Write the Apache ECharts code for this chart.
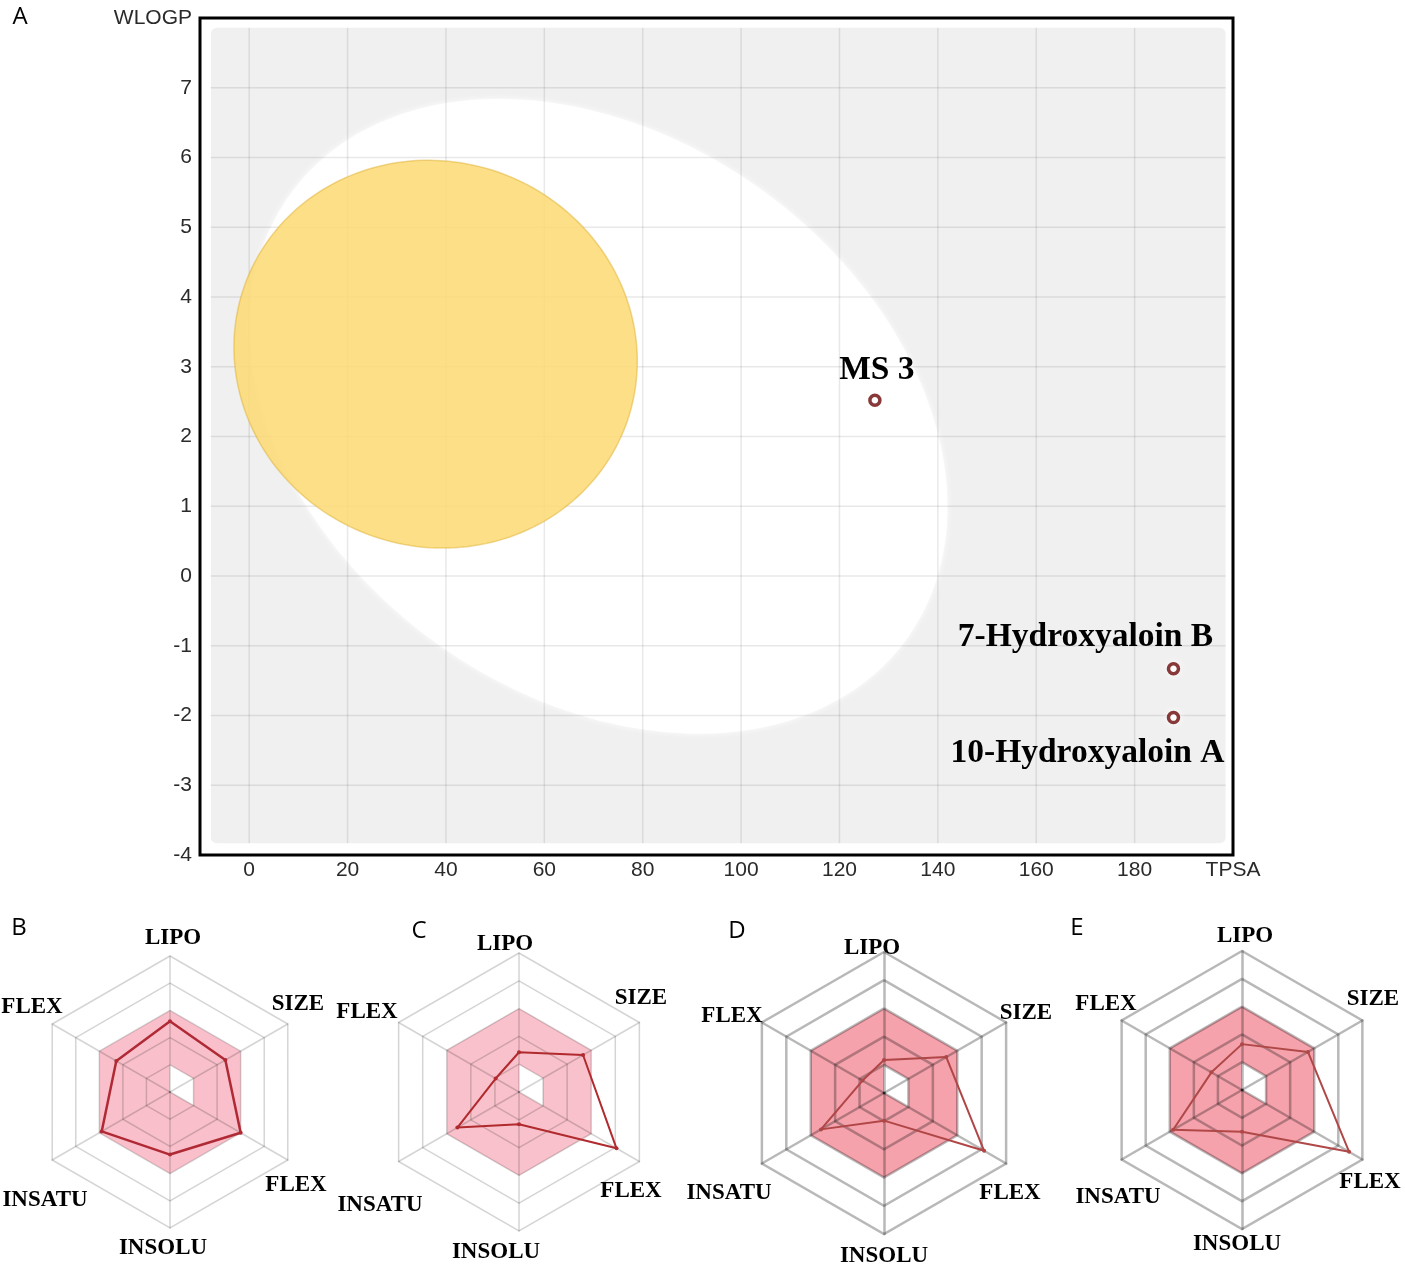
<!DOCTYPE html>
<html><head><meta charset="utf-8">
<script src="https://cdn.jsdelivr.net/npm/echarts@6/dist/echarts.min.js"></script>
<style>html,body{margin:0;padding:0;background:#fff}#c{width:1405px;height:1265px}</style>
</head><body><div id="c"></div>
<script>
// ---------- Panel A: BOILED-Egg ----------
const compoundNames = ['MS 3', '7-Hydroxyaloin B', '10-Hydroxyaloin A'];
const tpsaValues = [127.2, 187.9, 187.9];
const wlogpValues = [2.52, -1.33, -2.03];
const xTickValues = [0, 20, 40, 60, 80, 100, 120, 140, 160, 180];
const yTickValues = [-3, -2, -1, 0, 1, 2, 3, 4, 5, 6, 7];
// regions: [centre TPSA, centre WLOGP, half-width (TPSA), half-height (WLOGP), WLOGP offset of right-most point]
const eggWhite = [71.05, 2.29, 70.9, 4.55, -1.3];
const eggYolk = [37.9, 3.18, 41.0, 2.78, -0.1];
// shaded plotting region [TPSA min, TPSA max, WLOGP min, WLOGP max]
const plotRegion = [-7.8, 198.5, -3.83, 7.86];

// ---------- Panels B-E: bioavailability radars ----------
// axes counter-clockwise from top
const radarAxes = ['LIPO', 'FLEX', 'INSATU', 'INSOLU', 'FLEX', 'SIZE'];
const optimalOuter = [3, 3, 3, 3, 3, 3];
const optimalInner = [1, 0, 0, 0, 1, 1];
const radarB = [2.6, 2.28, 2.9, 2.3, 3.0, 2.35];
const radarC = [1.43, 0.97, 2.56, 1.16, 4.05, 2.66];
const radarD = [1.17, 0.88, 2.58, 0.98, 4.1, 2.55];
const radarE = [1.65, 1.27, 2.86, 1.5, 4.45, 2.74];

// ---------- layout / style ----------
const pointLabelOffsets = [[2, -30], [-88, -31], [-86, 36]];
const panels = [
  { letter: 'B', letterPos: [19, 928], center: [170, 1092], radius: 136, values: radarB,
    pink: '#f9c0cb', grid: 'rgba(0,0,0,0.17)', gridW: 1.5, line: '#b02a35', lineW: 2.5,
    nameOff: [[3, -154], [-138, -85], [-125, 108], [-7, 156], [126, 93], [128, -88]] },
  { letter: 'C', letterPos: [419, 931], center: [519, 1092], radius: 139, values: radarC,
    pink: '#f9c1cb', grid: 'rgba(0,0,0,0.17)', gridW: 1.5, line: '#b02a2e', lineW: 2,
    nameOff: [[-14, -148], [-152, -80], [-139, 113], [-23, 160], [112, 99], [122, -94]] },
  { letter: 'D', letterPos: [737, 931], center: [884, 1093], radius: 141, values: radarD,
    pink: '#f5a2ac', grid: 'rgba(0,0,0,0.28)', gridW: 2.5, line: '#b04646', lineW: 2,
    nameOff: [[-12, -145], [-152, -77], [-155, 100], [0, 163], [126, 100], [142, -80]] },
  { letter: 'E', letterPos: [1077, 928], center: [1242, 1090], radius: 139, values: radarE,
    pink: '#f5a2ac', grid: 'rgba(0,0,0,0.28)', gridW: 2.5, line: '#b04848', lineW: 2,
    nameOff: [[3, -154], [-136, -86], [-124, 107], [-5, 154], [128, 92], [131, -91]] }
];

const axisFont = 'Liberation Sans';
const serif = 'Liberation Serif';

function ellipsePolygon(api) {
  const cx = api.value(0), cy = api.value(1), hw = api.value(2), hh = api.value(3), off = api.value(4);
  const lyy = Math.sqrt(hh * hh - off * off);
  const pts = [];
  const n = 200;
  for (let k = 0; k < n; k++) {
    const t = k / n * Math.PI * 2;
    pts.push(api.coord([cx + hw * Math.cos(t), cy + off * Math.cos(t) + lyy * Math.sin(t)]));
  }
  return pts;
}

const pointData = tpsaValues.map((x, i) => [x, wlogpValues[i], i]);

const series = [
  { type: 'custom', z: 1, silent: true, data: [plotRegion], encode: { x: [0, 1], y: [2, 3] },
    renderItem: function (params, api) {
      const p1 = api.coord([api.value(0), api.value(3)]);
      const p2 = api.coord([api.value(1), api.value(2)]);
      return { type: 'rect', shape: { x: p1[0], y: p1[1], width: p2[0] - p1[0], height: p2[1] - p1[1], r: 6 },
        style: { fill: '#f0f0f0' } };
    } },
  { type: 'custom', z: 2, silent: true, data: [eggWhite], encode: { x: 0, y: 1 },
    renderItem: function (params, api) {
      return { type: 'polygon', shape: { points: ellipsePolygon(api), smooth: 0 },
        style: { fill: '#ffffff', shadowBlur: 6, shadowColor: 'rgba(255,255,255,0.9)' } };
    } },
  { type: 'custom', z: 3, silent: true, data: xTickValues.map(v => [v]), encode: { x: 0 },
    renderItem: function (params, api) {
      const a = api.coord([api.value(0), plotRegion[3]]);
      const b = api.coord([api.value(0), plotRegion[2]]);
      return { type: 'line', shape: { x1: a[0], y1: a[1], x2: b[0], y2: b[1] },
        style: { stroke: 'rgba(0,0,0,0.09)', lineWidth: 1.5 } };
    } },
  { type: 'custom', z: 3, silent: true, data: yTickValues.map(v => [v]), encode: { y: 0 },
    renderItem: function (params, api) {
      const a = api.coord([plotRegion[0], api.value(0)]);
      const b = api.coord([plotRegion[1], api.value(0)]);
      return { type: 'line', shape: { x1: a[0], y1: a[1], x2: b[0], y2: b[1] },
        style: { stroke: 'rgba(0,0,0,0.09)', lineWidth: 1.5 } };
    } },
  { type: 'custom', z: 4, silent: true, data: [eggYolk], encode: { x: 0, y: 1 },
    renderItem: function (params, api) {
      return { type: 'polygon', shape: { points: ellipsePolygon(api) },
        style: { fill: 'rgba(252,218,115,0.86)', stroke: 'rgba(220,170,40,0.45)', lineWidth: 1.5 } };
    } },
  { type: 'scatter', z: 6, symbol: 'circle', symbolSize: 10,
    itemStyle: { color: '#ffffff', borderColor: '#6a0808', borderWidth: 3.5, shadowBlur: 10, shadowColor: 'rgba(255,255,255,1)' },
    label: { show: false },
    data: pointData.map(d => ({ name: compoundNames[d[2]], value: [d[0], d[1]] })) },
  { type: 'custom', z: 7, silent: true, data: pointData, encode: { x: 0, y: 1 },
    renderItem: function (params, api) {
      const i = api.value(2);
      const p = api.coord([api.value(0), api.value(1)]);
      return { type: 'text', x: p[0] + pointLabelOffsets[i][0], y: p[1] + pointLabelOffsets[i][1],
        style: { text: compoundNames[i], font: 'bold 33.5px "Liberation Serif"', fill: '#000000',
          align: 'center', verticalAlign: 'middle', textAlign: 'center', textVerticalAlign: 'middle' } };
    } }
];

const radars = [];
panels.forEach(p => {
  radars.push({ center: p.center, radius: p.radius, startAngle: 90, shape: 'polygon', splitNumber: 5, z: 0,
    indicator: radarAxes.map(n => ({ name: n, min: 0, max: 5 })),
    axisName: { show: false }, splitLine: { show: false }, splitArea: { show: false },
    axisLine: { show: false }, axisTick: { show: false }, axisLabel: { show: false } });
});
panels.forEach(p => {
  radars.push({ center: p.center, radius: p.radius, startAngle: 90, shape: 'polygon', splitNumber: 5, z: 3,
    indicator: radarAxes.map(n => ({ name: n, min: 0, max: 5 })),
    axisName: { show: false }, splitArea: { show: false },
    splitLine: { show: true, lineStyle: { color: p.grid, width: p.gridW } },
    axisLine: { show: true, lineStyle: { color: p.grid, width: p.gridW } },
    axisTick: { show: false }, axisLabel: { show: false } });
});
panels.forEach((p, i) => {
  series.push({ type: 'radar', radarIndex: i, z: 1, silent: true, symbol: 'none',
    lineStyle: { opacity: 0 }, areaStyle: { color: p.pink, opacity: 1 }, data: [{ value: optimalOuter }] });
  series.push({ type: 'radar', radarIndex: i, z: 2, silent: true, symbol: 'none',
    lineStyle: { opacity: 0 }, areaStyle: { color: '#ffffff', opacity: 1 }, data: [{ value: optimalInner }] });
  series.push({ type: 'radar', radarIndex: i, z: 5, silent: true, symbol: 'circle', symbolSize: 4,
    lineStyle: { color: p.line, width: p.lineW }, itemStyle: { color: p.line }, data: [{ value: p.values }] });
});

const graphics = [];
graphics.push({ type: 'text', x: 20, y: 17, z: 10,
  style: { text: 'A', font: '24px "Open Sans"', fill: '#000', textAlign: 'center', textVerticalAlign: 'middle', align: 'center', verticalAlign: 'middle' } });
panels.forEach(p => {
  graphics.push({ type: 'text', x: p.letterPos[0], y: p.letterPos[1], z: 10,
    style: { text: p.letter, font: '24px "Open Sans"', fill: '#000', textAlign: 'center', textVerticalAlign: 'middle', align: 'center', verticalAlign: 'middle' } });
  radarAxes.forEach((n, k) => {
    graphics.push({ type: 'text', x: p.center[0] + p.nameOff[k][0], y: p.center[1] + p.nameOff[k][1], z: 10,
      style: { text: n, font: 'bold 23px "Liberation Serif"', fill: '#000', textAlign: 'center', textVerticalAlign: 'middle', align: 'center', verticalAlign: 'middle' } });
  });
});

const chart = echarts.init(document.getElementById('c'), null, { renderer: 'canvas' });
chart.setOption({
  animation: false,
  backgroundColor: '#ffffff',
  grid: { left: 200, top: 18, width: 1033, height: 837, show: true, borderColor: '#000', borderWidth: 3, backgroundColor: '#ffffff' },
  xAxis: { type: 'value', min: -10, max: 200, interval: 10,
    axisLine: { show: false }, axisTick: { show: false }, splitLine: { show: false },
    axisLabel: { fontFamily: axisFont, fontSize: 21, color: '#2a2a2a', margin: 5, showMinLabel: true, showMaxLabel: true,
      formatter: v => v === 200 ? 'TPSA' : (v >= 0 && v % 20 === 0 ? String(v) : '') } },
  yAxis: { type: 'value', min: -4, max: 8, interval: 1,
    axisLine: { show: false }, axisTick: { show: false }, splitLine: { show: false },
    axisLabel: { fontFamily: axisFont, fontSize: 21, color: '#2a2a2a', margin: 8, showMinLabel: true, showMaxLabel: true,
      formatter: v => v === 8 ? 'WLOGP' : String(v) } },
  radar: radars,
  series: series,
  graphic: graphics
});
</script>
</body></html>
